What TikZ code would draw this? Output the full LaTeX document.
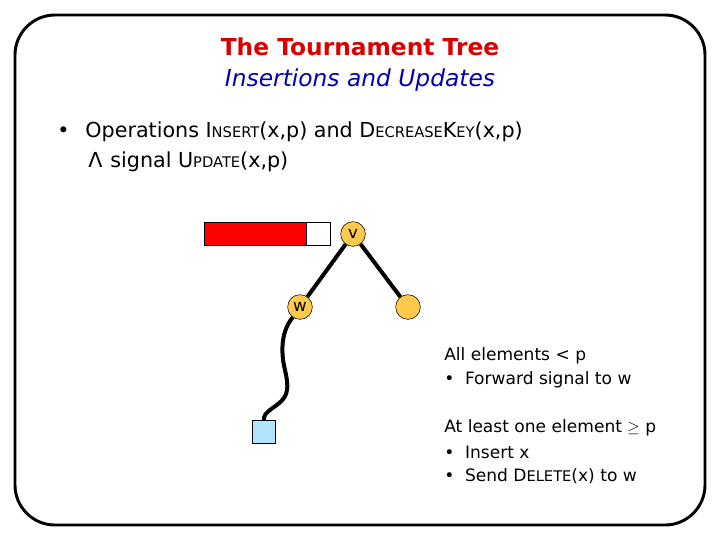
\documentclass[tikz,border=0pt]{standalone}
\usepackage{fontspec}
\setmainfont{DejaVu Sans}
\newcommand{\sck}[2]{#1{\fontsize{11}{12}\selectfont #2}}
\begin{document}
\begin{tikzpicture}[x=0.75pt,y=-0.75pt,
  txt/.style={anchor=west,inner sep=0,font=\fontsize{12.8}{14}\selectfont},
  big/.style={anchor=west,inner sep=0,font=\fontsize{15.5}{18}\selectfont},
  nd/.style={circle,draw,fill=orange!60!yellow!70,minimum size=18.5pt,inner sep=0,font=\fontsize{12.5}{13}\selectfont},
  edge/.style={line width=3pt}]
\useasboundingbox (0,0) rectangle (720,540);
\draw[line width=2.2pt,rounded corners=30pt] (15,15) rectangle (705,525);
\node[font=\bfseries\fontsize{17.5}{20}\selectfont,text=red!85!black] (t) at (360,47) {The Tournament Tree};
\node[font=\itshape\fontsize{17.5}{20}\selectfont,text=blue!70!black] (s) at (360,80) {Insertions and Updates};
\node[big] (b1) at (57,132) {•\hspace{12pt}Operations \sck{I}{NSERT}(x,p) and \sck{D}{ECREASE}\sck{K}{EY}(x,p)};
\node[big] (b2) at (88,162) {Ʌ\hspace{6pt}signal \sck{U}{PDATE}(x,p)};
\node[draw,fill=red,minimum width=76.5pt,minimum height=17.5pt,inner sep=0,anchor=north west] (bar) at (204,222) {};
\node[draw,fill=white,minimum width=18pt,minimum height=17.5pt,inner sep=0,anchor=north west] (wb) at (306,222) {};
\node[nd] (v) at (353,234) {v};
\node[nd] (w) at (300,307) {w};
\node[nd] (r) at (408,307) {};
\node[draw,fill=blue!35!cyan!30,minimum size=17.5pt,inner sep=0] (leaf) at (264,432) {};
\draw[edge] (v) -- (w);
\draw[edge] (v) -- (r);
\draw[edge] (w.235) .. controls (282,330) and (280,350) .. (285,370) .. controls (290,392) and (287,398) .. (274,407) .. controls (264,414) and (264,416) .. (leaf.north);
\node[txt] (a1) at (444,356) {All elements < p};
\node[txt] (a2) at (444,380) {•\hspace{8pt}Forward signal to w};
\node[txt] (a3) at (444,428) {At least one element $\geq$ p};
\node[txt] (a4) at (444,452) {•\hspace{8pt}Insert x};
\node[txt] (a5) at (444,476) {•\hspace{8pt}Send \sck{D}{ELETE}(x) to w};
\end{tikzpicture}
\end{document}
